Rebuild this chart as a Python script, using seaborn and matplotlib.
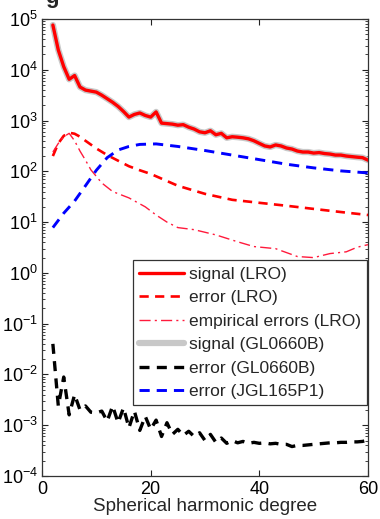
import numpy as np
import pandas as pd
import matplotlib
matplotlib.use("Agg")
import matplotlib.pyplot as plt
import seaborn as sns
from matplotlib.ticker import LogLocator, FixedLocator, NullFormatter

# ---------------- data ----------------
deg = list(range(2, 61))
signal_lro = [76000, 24500, 11500, 6500, 7700, 4570, 3980, 3800, 3630, 3160,
              2690, 2290, 1900, 1510, 1170, 1320, 1410, 1260, 1170, 1480,
              890, 870, 850, 810, 830, 740, 680, 600, 575, 630,
              525, 560, 457, 480, 470, 457, 437, 400, 355, 316,
              302, 331, 316, 288, 275, 251, 240, 240, 229, 234,
              224, 219, 209, 209, 200, 195, 190, 186, 166]
signal_gl = [76000, 24500, 11500, 6500, 7700, 4570, 3980, 3800, 3630, 3160,
             2690, 2290, 1900, 1510, 1170, 1320, 1410, 1260, 1170, 1480,
             890, 870, 850, 810, 830, 740, 680, 600, 575, 630,
             525, 560, 457, 480, 470, 457, 437, 400, 355, 316,
             302, 331, 316, 288, 275, 251, 240, 240, 229, 234,
             224, 219, 209, 209, 200, 195, 190, 186, 166]
error_gl = [0.040, 0.0024, 0.0089, 0.0016, 0.0040, 0.0020, 0.0024, 0.0018, 0.00174, 0.0019,
            0.0012, 0.0024, 0.00112, 0.0022, 0.00089, 0.0019, 0.00079, 0.0015, 0.00083, 0.00126,
            0.0006, 0.00112, 0.00066, 0.00083, 0.00063, 0.00076, 0.0006, 0.00071, 0.0005, 0.00066,
            0.00046, 0.00056, 0.00044, 0.0005, 0.00045, 0.00048, 0.00044, 0.00046, 0.00044, 0.00045,
            0.00043, 0.00044, 0.00042, 0.00042, 0.00038, 0.0004, 0.0004, 0.00041, 0.00042, 0.00043,
            0.00044, 0.00045, 0.00045, 0.00046, 0.00046, 0.00047, 0.00047, 0.00048, 0.00051]

deg_err_lro = [2, 3, 4, 5, 6, 7, 8, 10, 12, 14, 16, 18, 20, 25, 30, 35, 40, 45, 50, 55, 60]
error_lro = [200, 355, 500, 575, 550, 480, 400, 282, 209, 162, 126, 105, 89, 52, 36, 27.5, 24, 21, 18.2, 15.8, 13.8]

deg_emp = [2, 3, 4, 5, 6, 7, 8, 9, 11, 13, 16, 19, 21, 23, 25, 28, 32, 36, 39, 43, 47, 50, 53, 56, 58, 60]
empirical_lro = [240, 355, 480, 560, 400, 250, 166, 107, 59, 40, 30, 20, 13.8, 10, 7.8, 7.1, 5.6, 4.1, 3.3, 3.0, 2.1, 2.0, 2.4, 2.6, 3.2, 3.6]

deg_jgl = [2, 4, 6, 8, 10, 12, 14, 16, 18, 21, 25, 30, 35, 40, 45, 50, 55, 60]
error_jgl = [7.8, 15, 26, 52, 105, 186, 263, 309, 339, 347, 309, 257, 209, 170, 138, 117, 102, 93]

labels = ["signal (LRO)", "error (LRO)", "empirical errors (LRO)",
          "signal (GL0660B)", "error (GL0660B)", "error (JGL165P1)"]
x_ticks = [0, 20, 40, 60]
x_label = "Spherical harmonic degree"

# ---------------- style ----------------
sns.set_theme(style="ticks")
plt.rcParams['font.family'] = ['Liberation Sans', 'DejaVu Sans']
plt.rcParams['mathtext.fontset'] = 'custom'
plt.rcParams['mathtext.rm'] = 'Liberation Sans'
plt.rcParams['mathtext.it'] = 'Liberation Sans:italic'

fig = plt.figure(figsize=(3.80, 5.19), dpi=100)
ax = fig.add_axes([42/380, 1 - 476/519, (368 - 42)/380, (476 - 19)/519])

sns.lineplot(x=deg, y=signal_gl, ax=ax, color="#c8c8c8", lw=4.5, zorder=1, label=labels[3])
sns.lineplot(x=deg, y=signal_lro, ax=ax, color="#ff0000", lw=2.4, zorder=3, label=labels[0])
sns.lineplot(x=deg_err_lro, y=error_lro, ax=ax, color="#ff0000", lw=1.9,
             linestyle=(0, (3.5, 2.4)), zorder=3, label=labels[1])
sns.lineplot(x=deg_emp, y=empirical_lro, ax=ax, color="#ff1a3c", lw=1.0,
             linestyle=(0, (8, 3, 1.5, 3)), zorder=3, label=labels[2])
sns.lineplot(x=deg, y=error_gl, ax=ax, color="#000000", lw=2.4,
             linestyle=(0, (3, 2.2)), zorder=3, label=labels[4])
sns.lineplot(x=deg_jgl, y=error_jgl, ax=ax, color="#0000ff", lw=2.1,
             linestyle=(0, (3.5, 2.4)), zorder=3, label=labels[5])

ax.set_yscale("log")
ax.set_ylim(1e-4, 1e5)
ax.set_xlim(0, 60)
ax.xaxis.set_major_locator(FixedLocator(x_ticks))
ax.yaxis.set_major_locator(LogLocator(base=10, numticks=20))
ax.yaxis.set_minor_locator(LogLocator(base=10, subs=np.arange(2, 10), numticks=100))
ax.yaxis.set_minor_formatter(NullFormatter())
ax.tick_params(axis='both', which='both', direction='in', top=True, right=True,
               labelsize=13, colors='#222222', labelcolor='black')
ax.tick_params(axis='both', which='major', length=4, width=0.8)
ax.tick_params(axis='both', which='minor', length=2.5, width=0.6)
ax.tick_params(axis='y', which='major', pad=3)
ax.set_xlabel(x_label, fontsize=13.5, labelpad=0)
ax.set_ylabel("")
for s in ax.spines.values():
    s.set_color('#333333')
    s.set_linewidth(0.9)

# legend in the required order
hmap = {l.get_label(): l for l in ax.get_lines()}
handles = [hmap[l] for l in labels]
leg = ax.legend(handles, labels, loc='lower right', bbox_to_anchor=(0.998, 0.155),
                fontsize=12.5, frameon=True, fancybox=False, edgecolor='#333333',
                framealpha=1, borderaxespad=0, handlelength=2.6, handletextpad=0.3,
                labelspacing=0.48, borderpad=0.35)
leg.get_frame().set_linewidth(0.9)

fig.text(52/380, 1.0 + 2/519, "g", fontsize=16, fontweight='bold', ha='center', va='center')

fig.savefig("out.png", dpi=100)
